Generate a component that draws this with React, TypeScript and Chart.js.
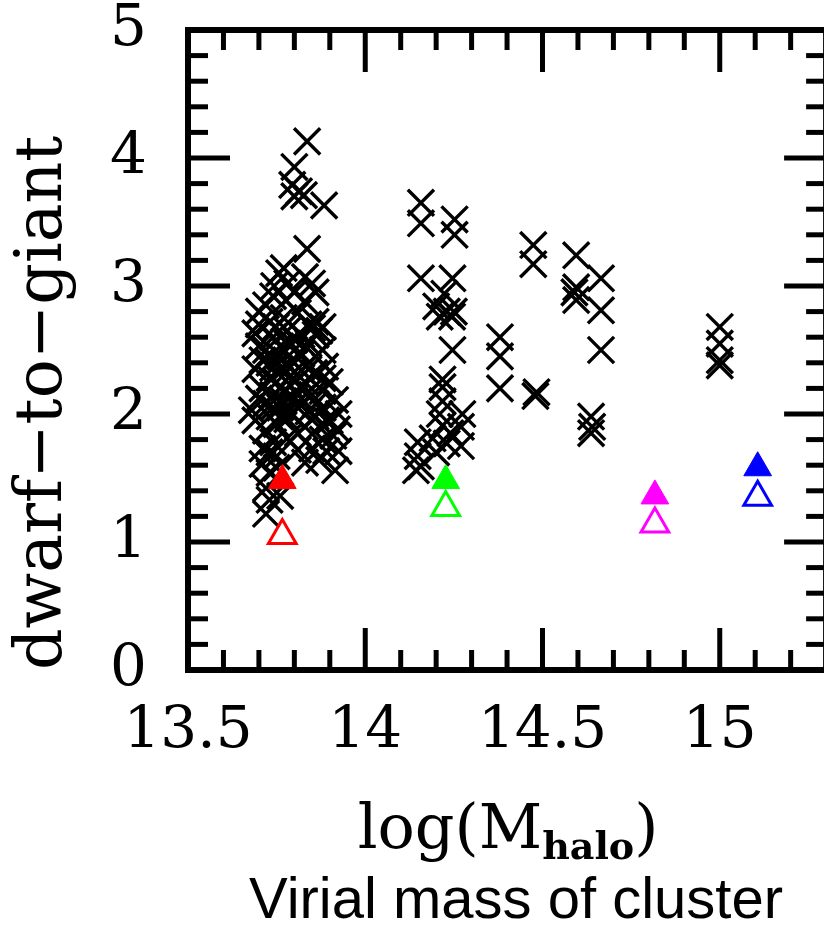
import { useEffect, useRef } from "react";
import { Chart, registerables } from "chart.js";

Chart.register(...registerables);

// Axis ranges and labelled ticks
const X_MIN = 13.5;
const X_MAX = 15.3;
const Y_MIN = 0;
const Y_MAX = 5;
const X_TICKS = [13.5, 14, 14.5, 15];
const X_TICK_LABELS = ["13.5", "14", "14.5", "15"];
const Y_TICKS = [0, 1, 2, 3, 4, 5];
const Y_TICK_LABELS = ["0", "1", "2", "3", "4", "5"];
const X_MINOR_STEP = 0.1;
const Y_MINOR_STEP = 0.2;

// Individual clusters: [log(M_halo), dwarf-to-giant ratio]
const GROUP_13_8: [number, number][] = [
  [13.836, 4.13], [13.8, 3.93], [13.794, 3.79], [13.813, 3.74], [13.827, 3.71],
  [13.8, 3.7], [13.884, 3.63], [13.836, 3.29], [13.757, 3.1], [13.77, 3.14],
  [13.83, 3.07], [13.85, 3.02], [13.743, 3.0], [13.7, 2.8], [13.72, 2.85],
  [13.776, 2.89], [13.83, 2.88], [13.86, 2.95], [13.81, 2.79], [13.88, 2.68],
  [13.87, 2.65], [13.85, 2.67], [13.86, 2.62], [13.69, 2.63], [13.7, 2.53],
  [13.748, 2.68], [13.76, 2.53], [13.8, 2.58], [13.82, 2.47], [13.71, 2.42],
  [13.74, 2.36], [13.78, 2.38], [13.79, 2.3], [13.82, 2.34], [13.856, 2.32],
  [13.887, 2.37], [13.73, 2.28], [13.88, 2.28], [13.68, 2.03], [13.72, 2.08],
  [13.74, 2.15], [13.76, 2.05], [13.78, 1.96], [13.82, 2.12], [13.84, 2.02],
  [13.88, 2.05], [13.915, 2.11], [13.925, 2.0], [13.89, 1.95], [13.73, 1.98],
  [13.77, 2.1], [13.72, 1.87], [13.74, 1.78], [13.78, 1.81], [13.81, 1.85],
  [13.85, 1.73], [13.88, 1.8], [13.91, 1.83], [13.925, 1.71], [13.89, 1.71],
  [13.71, 1.73], [13.71, 1.61], [13.73, 1.54], [13.75, 1.67], [13.915, 1.56],
  [13.87, 1.64], [13.72, 1.42], [13.73, 1.33], [13.72, 1.22], [13.76, 1.36],
  [13.7, 2.7], [13.72, 2.5], [13.74, 2.6], [13.76, 2.45], [13.78, 2.55],
  [13.8, 2.4], [13.82, 2.62], [13.84, 2.55], [13.86, 2.45], [13.75, 2.25],
  [13.77, 2.18], [13.79, 2.22], [13.81, 2.05], [13.83, 2.25], [13.85, 2.15],
  [13.73, 2.4], [13.71, 2.2], [13.75, 1.92], [13.79, 2.0], [13.83, 1.9],
  [13.87, 1.9], [13.9, 1.95], [13.92, 1.88], [13.86, 2.72], [13.84, 2.7],
  [13.8, 2.95], [13.77, 2.75], [13.73, 2.72], [13.69, 2.35], [13.7, 2.12],
  [13.78, 2.65], [13.8, 2.5], [13.76, 2.35], [13.82, 2.2], [13.8, 2.12],
  [13.76, 1.98], [13.74, 2.05], [13.86, 1.98], [13.84, 2.35], [13.88, 2.5],
  [13.78, 3.02], [13.74, 2.92], [13.88, 2.18], [13.9, 2.25], [13.75, 1.58],
  [13.73, 1.7], [13.69, 1.95], [13.86, 2.08], [13.81, 1.72], [13.83, 1.62],
];

const GROUP_14_2: [number, number][] = [
  [14.157, 3.65], [14.157, 3.49], [14.252, 3.52], [14.252, 3.4], [14.157, 3.06],
  [14.246, 3.06], [14.223, 2.94], [14.2, 2.84], [14.23, 2.8], [14.25, 2.8],
  [14.245, 2.76], [14.21, 2.76], [14.246, 2.5], [14.218, 2.27], [14.218, 2.21],
  [14.218, 2.1], [14.21, 2.0], [14.274, 2.0], [14.218, 1.91], [14.27, 1.9],
  [14.19, 1.81], [14.23, 1.77], [14.27, 1.75], [14.148, 1.78], [14.148, 1.67],
  [14.143, 1.56], [14.157, 1.59], [14.24, 1.85], [14.2, 1.7],
];

const GROUP_14_4: [number, number][] = [
  [14.38, 2.6], [14.38, 2.45], [14.38, 2.2],
];

const GROUP_14_5: [number, number][] = [
  [14.474, 3.32], [14.474, 3.17], [14.483, 2.17], [14.48, 2.14],
];

const GROUP_14_6: [number, number][] = [
  [14.595, 3.24], [14.595, 2.99], [14.59, 2.95], [14.595, 2.89], [14.665, 3.06],
  [14.665, 2.81], [14.665, 2.5], [14.637, 1.98], [14.64, 1.9], [14.637, 1.85],
];

const GROUP_15_0: [number, number][] = [
  [15.0, 2.68], [15.0, 2.55], [15.0, 2.42], [15.0, 2.38],
];

// Stacked ratios per mass bin
const STACK_X = [13.766, 14.227, 14.817, 15.107];
const STACK_FILLED_Y = [1.48, 1.48, 1.36, 1.58];
const STACK_OPEN_Y = [1.05, 1.27, 1.14, 1.35];
const STACK_COLORS = ["#ff0000", "#00ff00", "#ff00ff", "#0000ff"];

const SERIF = '"DejaVu Serif", serif';

const ALL_CLUSTERS = [
  ...GROUP_13_8,
  ...GROUP_14_2,
  ...GROUP_14_4,
  ...GROUP_14_5,
  ...GROUP_14_6,
  ...GROUP_15_0,
];

const frameAndLabels = {
  id: "frameAndLabels",
  afterDraw(chart: any) {
    const { ctx, chartArea, scales } = chart;
    const { left, right, top, bottom } = chartArea;
    const xs = scales.x;
    const ys = scales.y;
    ctx.save();
    ctx.strokeStyle = "#000";
    ctx.lineCap = "butt";

    const seg = (x1: number, y1: number, x2: number, y2: number) => {
      ctx.beginPath();
      ctx.moveTo(x1, y1);
      ctx.lineTo(x2, y2);
      ctx.stroke();
    };

    // inward tick marks on all four sides
    ctx.lineWidth = 5;
    const nx = Math.round((X_MAX - X_MIN) / X_MINOR_STEP);
    for (let i = 1; i < nx; i++) {
      const v = X_MIN + i * X_MINOR_STEP;
      const len = i % 5 === 0 ? 42 : 20;
      const px = xs.getPixelForValue(v);
      seg(px, bottom, px, bottom - len);
      seg(px, top, px, top + len);
    }
    const ny = Math.round((Y_MAX - Y_MIN) / Y_MINOR_STEP);
    for (let i = 1; i < ny; i++) {
      const v = Y_MIN + i * Y_MINOR_STEP;
      const len = i % 5 === 0 ? 42 : 20;
      const py = ys.getPixelForValue(v);
      seg(left, py, left + len, py);
      seg(right, py, right - len, py);
    }

    // box
    ctx.lineWidth = 6;
    ctx.strokeRect(left, top, right - left, bottom - top);

    // x-axis title with subscript
    ctx.fillStyle = "#000";
    ctx.textBaseline = "alphabetic";
    ctx.textAlign = "left";
    const mainFont = `62px ${SERIF}`;
    const subFont = `bold 38px ${SERIF}`;
    ctx.font = mainFont;
    const w1 = ctx.measureText("log(M").width;
    const w3 = ctx.measureText(")").width;
    ctx.font = subFont;
    const w2 = ctx.measureText("halo").width;
    const cx = 508;
    let x0 = cx - (w1 + w2 + w3) / 2;
    const base = 848;
    ctx.font = mainFont;
    ctx.fillText("log(M", x0, base);
    x0 += w1;
    ctx.font = subFont;
    ctx.fillText("halo", x0, base + 11);
    x0 += w2;
    ctx.font = mainFont;
    ctx.fillText(")", x0, base);

    // caption
    ctx.font = '58px "Liberation Sans", Arial, sans-serif';
    ctx.textAlign = "center";
    ctx.fillText("Virial mass of cluster", 516, 918);
    ctx.restore();
  },
};

export default function App() {
  const ref = useRef<HTMLCanvasElement>(null);

  useEffect(() => {
    const canvas = ref.current;
    if (!canvas) return;
    const chart = new Chart(canvas, {
      type: "scatter",
      data: {
        datasets: [
          {
            label: "stacked (filled)",
            data: STACK_X.map((x, i) => ({ x, y: STACK_FILLED_Y[i] })),
            pointStyle: "triangle",
            pointRadius: 16,
            pointBackgroundColor: STACK_COLORS,
            pointBorderColor: STACK_COLORS,
            pointBorderWidth: 1,
            showLine: false,
          },
          {
            label: "stacked (open)",
            data: STACK_X.map((x, i) => ({ x, y: STACK_OPEN_Y[i] })),
            pointStyle: "triangle",
            pointRadius: 16,
            pointBackgroundColor: "rgba(0,0,0,0)",
            pointBorderColor: STACK_COLORS,
            pointBorderWidth: 3,
            showLine: false,
          },
          {
            label: "clusters",
            data: ALL_CLUSTERS.map(([x, y]) => ({ x, y })),
            pointStyle: "crossRot",
            pointRadius: 18.5,
            borderColor: "#000",
            borderWidth: 3.4,
            showLine: false,
          },
        ],
      },
      options: {
        responsive: false,
        devicePixelRatio: 1,
        animation: false,
        events: [],
        layout: { padding: { top: 30, right: 10, left: 0, bottom: 0 } },
        plugins: {
          legend: { display: false },
          tooltip: { enabled: false },
        },
        scales: {
          x: {
            type: "linear",
            min: X_MIN,
            max: X_MAX,
            grid: { display: false, drawTicks: true, tickLength: 33 },
            border: { display: false },
            afterBuildTicks: (s: any) => {
              s.ticks = X_TICKS.map((value) => ({ value }));
            },
            afterFit: (s: any) => {
              s.height = 258;
              s.paddingRight = 0;
            },
            ticks: {
              padding: 0,
              color: "#000",
              autoSkip: false,
              maxRotation: 0,
              font: { family: SERIF, size: 58, lineHeight: 1 },
              callback: (v: any) => X_TICK_LABELS[X_TICKS.indexOf(Number(v))] ?? "",
            },
          },
          y: {
            type: "linear",
            min: Y_MIN,
            max: Y_MAX,
            grid: { display: false, drawTicks: true, tickLength: 41 },
            border: { display: false },
            afterBuildTicks: (s: any) => {
              s.ticks = Y_TICKS.map((value) => ({ value }));
            },
            afterFit: (s: any) => {
              s.width = 188;
            },
            ticks: {
              padding: 0,
              color: "#000",
              autoSkip: false,
              font: { family: SERIF, size: 58, lineHeight: 1 },
              callback: (v: any) => Y_TICK_LABELS[Y_TICKS.indexOf(Number(v))] ?? "",
            },
            title: {
              display: true,
              text: "dwarf\u2212to\u2212giant",
              align: "start",
              color: "#000",
              font: { family: SERIF, size: 65, lineHeight: 1 },
              padding: { top: 12, bottom: 0 },
            },
          },
        },
      },
      plugins: [frameAndLabels],
    } as any);
    return () => chart.destroy();
  }, []);

  return (
    <div
      style={{
        position: "fixed",
        left: 0,
        top: 0,
        width: 824,
        height: 928,
        overflow: "hidden",
        background: "#fff",
      }}
    >
      <canvas ref={ref} width={848} height={928} style={{ display: "block", width: 848, height: 928 }} />
    </div>
  );
}
